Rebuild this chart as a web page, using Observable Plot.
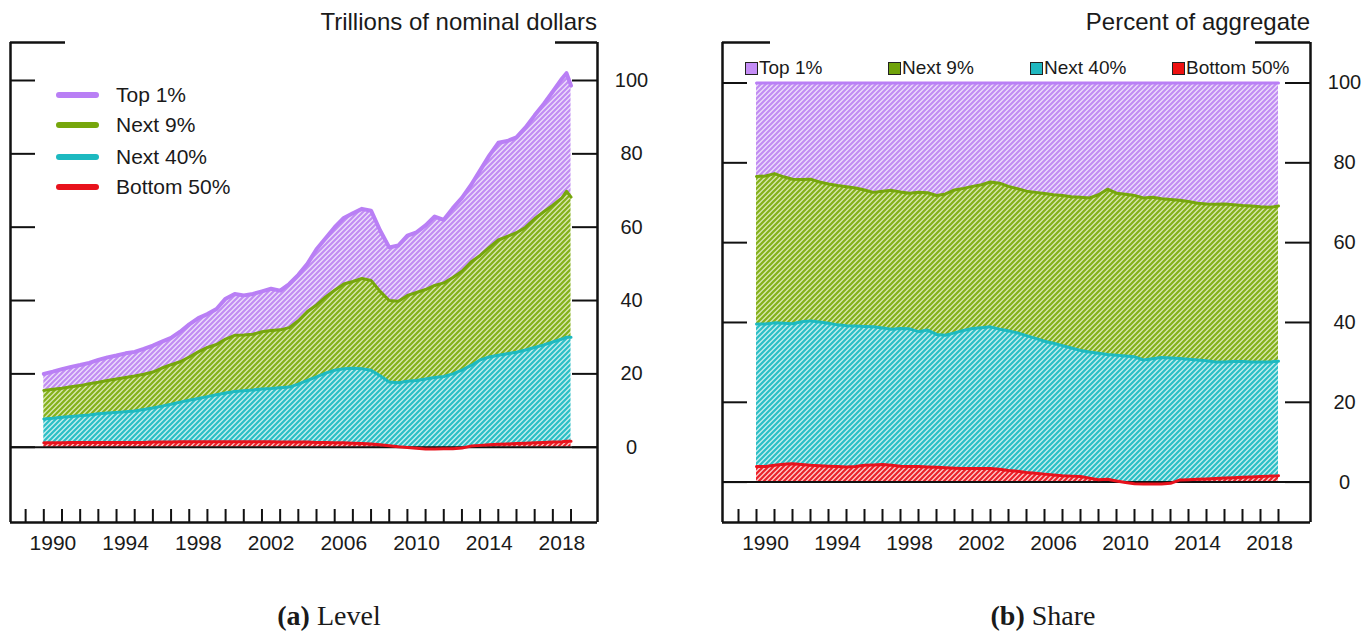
<!DOCTYPE html>
<html>
<head>
<meta charset="utf-8">
<script src="https://cdn.jsdelivr.net/npm/d3@7"></script>
<script src="https://cdn.jsdelivr.net/npm/@observablehq/plot@0.6"></script>
<style>
  html, body { margin: 0; padding: 0; background: #fff; }
  #page { position: relative; width: 1365px; height: 633px; overflow: hidden;
          font-family: "Liberation Sans", Arial, sans-serif; color: #1a1a1a; }
  .panel { position: absolute; top: 0; }
  .title { position: absolute; top: 7px; font-size: 24px; line-height: 30px; white-space: nowrap; }
  .leg { position: absolute; white-space: nowrap; }
  .caption { position: absolute; top: 600px; font-family: "Liberation Serif", "DejaVu Serif", serif;
             font-size: 28px; line-height: 32px; transform: translateX(-50%); white-space: nowrap; }
</style>
</head>
<body>
<div id="page"></div>
<script>
// ---------- Data ----------
// Observation dates (fractional years)
const years = [
  1989.5, 1990, 1990.5, 1991, 1991.5, 1992, 1992.5, 1993, 1993.5, 1994,
  1994.5, 1995, 1995.5, 1996, 1996.5, 1997, 1997.5, 1998, 1998.5, 1999,
  1999.5, 2000, 2000.5, 2001, 2001.5, 2002, 2002.5, 2003, 2003.5, 2004,
  2004.5, 2005, 2005.5, 2006, 2006.5, 2007, 2007.5, 2008, 2008.5, 2009,
  2009.5, 2010, 2010.5, 2011, 2011.5, 2012, 2012.5, 2013, 2013.5, 2014,
  2014.5, 2015, 2015.5, 2016, 2016.5, 2017, 2017.5, 2018, 2018.25, 2018.5
];

// (a) Level, trillions of nominal dollars — cumulative wealth held
const levelAll = [ // everyone (top of Top 1% band)
  20.0, 20.6, 21.3, 21.9, 22.4, 23.0, 23.8, 24.5, 25.0, 25.6,
  26.0, 26.8, 27.7, 28.8, 29.8, 31.5, 33.5, 35.2, 36.3, 37.7,
  40.5, 41.8, 41.4, 41.8, 42.5, 43.2, 42.7, 44.5, 47.0, 50.0,
  54.0, 57.0, 60.0, 62.5, 63.8, 65.0, 64.5, 59.1, 54.5, 55.0,
  57.7, 58.6, 60.5, 62.9, 62.0, 65.2, 68.0, 71.5, 75.5, 79.5,
  83.0, 83.5, 84.5, 87.2, 90.5, 93.6, 97.0, 100.5, 102.0, 98.6
];
const levelBottom99 = [ // top of Next 9% band
  15.5, 15.8, 16.1, 16.5, 16.8, 17.3, 17.7, 18.2, 18.6, 19.0,
  19.4, 19.9, 20.5, 21.6, 22.5, 23.3, 24.6, 26.0, 27.2, 28.0,
  29.5, 30.5, 30.6, 30.8, 31.5, 31.8, 32.0, 32.6, 34.5, 37.0,
  38.8, 41.0, 42.8, 44.5, 45.2, 46.0, 45.5, 42.5, 40.0, 39.8,
  41.4, 42.2, 43.0, 44.1, 44.8, 46.3, 48.0, 50.5, 52.3, 54.5,
  56.5, 57.5, 58.5, 60.0, 62.3, 64.2, 66.0, 68.0, 69.8, 68.2
];
const levelBottom90 = [ // top of Next 40% band
  7.7, 7.9, 8.2, 8.4, 8.6, 8.8, 9.1, 9.3, 9.5, 9.7,
  9.9, 10.3, 10.7, 11.2, 11.7, 12.3, 12.8, 13.3, 13.8, 14.3,
  14.8, 15.2, 15.4, 15.6, 15.9, 16.0, 16.2, 16.4, 17.2, 18.2,
  19.2, 20.2, 21.0, 21.4, 21.5, 21.4, 21.0, 19.5, 17.8, 17.6,
  18.0, 18.2, 18.6, 19.0, 19.3, 20.0, 21.0, 22.3, 23.8, 24.6,
  25.1, 25.5, 25.9, 26.5, 27.2, 27.9, 28.7, 29.5, 30.0, 30.0
];
const levelBottom50 = [ // Bottom 50% band
  1.2, 1.2, 1.2, 1.3, 1.3, 1.3, 1.3, 1.3, 1.3, 1.3,
  1.3, 1.3, 1.4, 1.4, 1.4, 1.5, 1.5, 1.5, 1.5, 1.5,
  1.5, 1.5, 1.5, 1.5, 1.5, 1.5, 1.4, 1.4, 1.4, 1.4,
  1.3, 1.3, 1.2, 1.2, 1.1, 1.0, 0.9, 0.7, 0.4, 0.1,
  -0.1, -0.3, -0.5, -0.5, -0.4, -0.4, -0.2, 0.3, 0.5, 0.7,
  0.8, 0.9, 1.0, 1.1, 1.2, 1.3, 1.4, 1.5, 1.6, 1.6
];

// (b) Share, percent of aggregate — cumulative shares
const shareAll = 100;
const shareBottom99 = [
  76.6, 76.7, 77.3, 76.5, 75.9, 75.8, 75.9, 75.2, 74.7, 74.3,
  74.0, 73.7, 73.2, 72.6, 72.9, 73.1, 72.7, 72.4, 72.6, 72.5,
  71.8, 72.2, 73.2, 73.6, 74.1, 74.5, 75.2, 74.9, 74.1, 73.5,
  72.9, 72.6, 72.3, 72.0, 71.8, 71.5, 71.4, 71.2, 72.0, 73.4,
  72.4, 72.1, 71.8, 71.2, 71.4, 71.0, 70.8, 70.6, 70.3, 69.9,
  69.7, 69.6, 69.7, 69.5, 69.3, 69.2, 69.0, 68.9, 69.0, 69.2
];
const shareBottom90 = [
  39.6, 39.6, 39.9, 39.8, 39.7, 40.2, 40.4, 40.1, 39.8, 39.4,
  39.2, 39.1, 39.0, 38.9, 38.6, 38.3, 38.5, 38.4, 37.7, 38.1,
  37.0, 36.8, 37.4, 38.0, 38.5, 38.7, 38.9, 38.3, 37.9, 37.4,
  36.7, 36.0, 35.3, 34.8, 34.2, 33.6, 33.0, 32.6, 32.3, 32.0,
  31.8, 31.6, 31.4, 30.6, 30.9, 31.2, 31.1, 31.0, 30.8, 30.6,
  30.4, 30.1, 30.1, 30.2, 30.2, 30.1, 30.1, 30.1, 30.2, 30.3
];
const shareBottom50 = [
  3.9, 3.9, 4.2, 4.5, 4.6, 4.4, 4.2, 4.1, 4.0, 3.9,
  3.8, 3.9, 4.2, 4.3, 4.4, 4.2, 4.0, 3.9, 3.9, 3.8,
  3.7, 3.6, 3.5, 3.4, 3.4, 3.4, 3.4, 3.2, 2.9, 2.7,
  2.4, 2.2, 2.0, 1.8, 1.6, 1.5, 1.4, 1.0, 0.6, 0.7,
  0.3, -0.1, -0.4, -0.5, -0.5, -0.5, -0.3, 0.5, 0.6, 0.7,
  0.8, 0.9, 1.0, 1.1, 1.2, 1.3, 1.4, 1.5, 1.5, 1.6
];

const groupLabels = ["Top 1%", "Next 9%", "Next 40%", "Bottom 50%"];
const yTickValues = [0, 20, 40, 60, 80, 100];
const xLabelYears = [1990, 1994, 1998, 2002, 2006, 2010, 2014, 2018];
const xTickYears = d3.range(1988.5, 2019, 1);

// ---------- Styles ----------
const styles = {
  top1:     {line: "#b97ff5", hatch: "#c18cf3", tint: "#eddefb", swatch: "#c58df6"},
  next9:    {line: "#76a60c", hatch: "#84b11a", tint: "#d8e7b0", swatch: "#6fa20a"},
  next40:   {line: "#1db9c0", hatch: "#2bbfc6", tint: "#c6edef", swatch: "#1fb7bf"},
  bottom50: {line: "#e8121c", hatch: "#ec2028", tint: "#fbcaca", swatch: "#ee1111"}
};
const keys = ["top1", "next9", "next40", "bottom50"];

const bands = [
  {key: "top1", y1: "b99", y2: "all"},
  {key: "next9", y1: "b90", y2: "b99"},
  {key: "next40", y1: "b50", y2: "b90"},
  {key: "bottom50", y1: () => 0, y2: "b50"}
];

const levelRows = years.map((year, i) => ({year, b50: levelBottom50[i], b90: levelBottom90[i], b99: levelBottom99[i], all: levelAll[i]}));
const shareRows = years.map((year, i) => ({year, b50: shareBottom50[i], b90: shareBottom90[i], b99: shareBottom99[i], all: shareAll}));

function addPatterns(svg, prefix) {
  const ns = "http://www.w3.org/2000/svg";
  const defs = document.createElementNS(ns, "defs");
  for (const k of keys) {
    const s = styles[k];
    const p = document.createElementNS(ns, "pattern");
    p.setAttribute("id", `${prefix}-${k}`);
    p.setAttribute("patternUnits", "userSpaceOnUse");
    p.setAttribute("width", 5);
    p.setAttribute("height", 5);
    const r = document.createElementNS(ns, "rect");
    r.setAttribute("width", 5); r.setAttribute("height", 5); r.setAttribute("fill", s.tint);
    const path = document.createElementNS(ns, "path");
    path.setAttribute("d", "M-1,1 l2,-2 M0,5 l5,-5 M4,6 l2,-2");
    path.setAttribute("stroke", s.hatch);
    path.setAttribute("stroke-width", 2.2);
    p.appendChild(r); p.appendChild(path);
    defs.appendChild(p);
  }
  svg.insertBefore(defs, svg.firstChild);
}

function drawPanel({rows, prefix, width, height, margin, xDomain, yDomain, topSegs, topLineWidth}) {
  const plotW = width - margin.left - margin.right;
  const plotH = height - margin.top - margin.bottom;
  const pxPerYear = plotW / (xDomain[1] - xDomain[0]);
  const marks = [];
  for (const b of bands) {
    marks.push(Plot.areaY(rows, {x: "year", y1: b.y1, y2: b.y2, fill: `url(#${prefix}-${b.key})`}));
  }
  marks.push(Plot.ruleY([0], {stroke: "#111", strokeWidth: 2}));
  for (const b of bands) {
    marks.push(Plot.lineY(rows, {x: "year", y: b.y2, stroke: styles[b.key].line,
      strokeWidth: b.key === "top1" ? topLineWidth : 3, strokeLinejoin: "round"}));
  }
  // frame (left, right, bottom, partial top)
  marks.push(Plot.ruleX([xDomain[0], xDomain[1]], {stroke: "#111", strokeWidth: 2.5}));
  marks.push(Plot.ruleY([yDomain[0]], {stroke: "#111", strokeWidth: 2.5}));
  marks.push(Plot.ruleY([yDomain[1]], {x1: () => xDomain[0], x2: () => xDomain[0] + topSegs[0] / pxPerYear, stroke: "#111", strokeWidth: 2.5}));
  marks.push(Plot.ruleY([yDomain[1]], {x1: () => xDomain[1] - topSegs[1] / pxPerYear, x2: () => xDomain[1], stroke: "#111", strokeWidth: 2.5}));
  // y ticks (inward on both sides)
  marks.push(Plot.tickY(yTickValues, {y: d => d, insetRight: plotW - 25, stroke: "#111", strokeWidth: 2}));
  marks.push(Plot.tickY(yTickValues, {y: d => d, insetLeft: plotW - 25, stroke: "#111", strokeWidth: 2}));
  // y labels (outside right)
  marks.push(Plot.text(yTickValues, {y: d => d, text: d => String(d), frameAnchor: "right", dx: 34,
    textAnchor: "middle", fontSize: 20, fill: "#1a1a1a"}));
  // x ticks (upward from bottom)
  marks.push(Plot.tickX(xTickYears, {x: d => d, insetTop: plotH - 13, stroke: "#111", strokeWidth: 2}));
  // x labels
  marks.push(Plot.text(xLabelYears, {x: d => d, text: d => String(d), frameAnchor: "bottom", dy: 27,
    fontSize: 21, fill: "#1a1a1a"}));

  const svg = Plot.plot({
    width, height,
    marginLeft: margin.left, marginRight: margin.right, marginTop: margin.top, marginBottom: margin.bottom,
    x: {domain: xDomain, axis: null},
    y: {domain: yDomain, axis: null},
    style: {fontFamily: '"Liberation Sans", Arial, sans-serif', background: "transparent", overflow: "visible"},
    marks
  });
  addPatterns(svg, prefix);
  return svg;
}

const page = document.getElementById("page");

function place(el, left) {
  const d = document.createElement("div");
  d.className = "panel";
  d.style.left = left + "px";
  d.appendChild(el);
  page.appendChild(d);
}

// (a) Level panel: frame x 10..597, y 42..522
place(drawPanel({
  rows: levelRows, prefix: "lvl", width: 680, height: 570,
  margin: {left: 10, right: 83, top: 42, bottom: 48},
  xDomain: [1987.668, 2019.956], yDomain: [-20.53, 110.36],
  topSegs: [55, 42], topLineWidth: 4
}), 0);

// (b) Share panel: frame x 722..1310, y 42..522
place(drawPanel({
  rows: shareRows, prefix: "shr", width: 665, height: 570,
  margin: {left: 22, right: 55, top: 42, bottom: 48},
  xDomain: [1987.611, 2020.278], yDomain: [-10.12, 110.15],
  topSegs: [48, 55], topLineWidth: 3
}), 700);

// Titles
function addDiv(cls, html, css) {
  const d = document.createElement("div");
  d.className = cls;
  d.innerHTML = html;
  Object.assign(d.style, css);
  page.appendChild(d);
  return d;
}
addDiv("title", "Trillions of nominal dollars", {right: (1365 - 597) + "px"});
addDiv("title", "Percent of aggregate", {right: (1365 - 1310) + "px"});

// Legend (a): thick lines
const legA = [95, 125, 156.5, 187];
keys.forEach((k, i) => {
  addDiv("leg", "", {left: "56px", top: (legA[i] - 3) + "px", width: "43px", height: "6px",
    background: styles[k].line, borderRadius: "3px"});
  addDiv("leg", groupLabels[i], {left: "116px", top: (legA[i] - 13) + "px", fontSize: "21px", lineHeight: "26px"});
});

// Legend (b): squares
const legB = [745, 888, 1030, 1172];
keys.forEach((k, i) => {
  addDiv("leg", "", {left: legB[i] + "px", top: "62px", width: "11px", height: "11px",
    background: styles[k].swatch, border: "1px solid #222"});
  addDiv("leg", groupLabels[i], {left: (legB[i] + 14) + "px", top: "56px", fontSize: "19px", lineHeight: "24px"});
});

// Captions
addDiv("caption", "<b>(a)</b> Level", {left: "329px"});
addDiv("caption", "<b>(b)</b> Share", {left: "1043px"});
</script>
</body>
</html>
